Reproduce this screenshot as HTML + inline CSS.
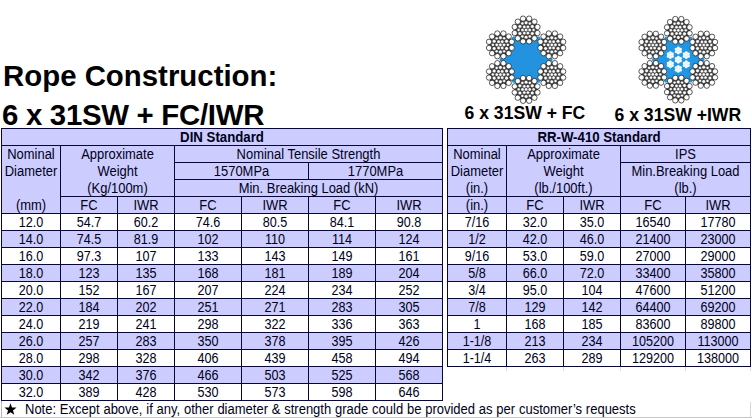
<!DOCTYPE html>
<html><head><meta charset="utf-8"><title>Rope Construction</title>
<style>
html,body{margin:0;padding:0;}
body{width:752px;height:418px;background:#fff;position:relative;overflow:hidden;font-family:"Liberation Sans",sans-serif;color:#000018;}
.r{position:absolute;}
.t{position:absolute;height:16px;line-height:17px;font-size:14px;text-align:center;white-space:nowrap;transform:scaleX(0.925);transform-origin:50% 50%;}
.n{transform:scaleX(0.9);}
.note{position:absolute;font-size:14px;line-height:17px;white-space:nowrap;transform:scaleX(0.9286);transform-origin:0 50%;}
.star{font-size:13px;}
.h1{position:absolute;font-size:29.4px;line-height:30px;font-weight:bold;white-space:nowrap;color:#000;}
.lab{position:absolute;font-size:17.6px;line-height:20px;font-weight:bold;white-space:nowrap;color:#000;}
</style></head><body>
<div class="r" style="left:1px;top:128px;width:442px;height:85px;background:#ccccff"></div>
<div class="r" style="left:1px;top:230px;width:442px;height:17px;background:#ccccff"></div>
<div class="r" style="left:1px;top:264px;width:442px;height:17px;background:#ccccff"></div>
<div class="r" style="left:1px;top:298px;width:442px;height:17px;background:#ccccff"></div>
<div class="r" style="left:1px;top:332px;width:442px;height:17px;background:#ccccff"></div>
<div class="r" style="left:1px;top:366px;width:442px;height:17px;background:#ccccff"></div>
<div class="r" style="left:1px;top:128px;width:442px;height:1px;background:#07073a"></div>
<div class="r" style="left:1px;top:145px;width:442px;height:1px;background:#07073a"></div>
<div class="r" style="left:174px;top:162px;width:269px;height:1px;background:#07073a"></div>
<div class="r" style="left:174px;top:179px;width:269px;height:1px;background:#07073a"></div>
<div class="r" style="left:60px;top:196px;width:383px;height:1px;background:#07073a"></div>
<div class="r" style="left:1px;top:213px;width:442px;height:1px;background:#07073a"></div>
<div class="r" style="left:1px;top:230px;width:442px;height:1px;background:#07073a"></div>
<div class="r" style="left:1px;top:247px;width:442px;height:1px;background:#07073a"></div>
<div class="r" style="left:1px;top:264px;width:442px;height:1px;background:#07073a"></div>
<div class="r" style="left:1px;top:281px;width:442px;height:1px;background:#07073a"></div>
<div class="r" style="left:1px;top:298px;width:442px;height:1px;background:#07073a"></div>
<div class="r" style="left:1px;top:315px;width:442px;height:1px;background:#07073a"></div>
<div class="r" style="left:1px;top:332px;width:442px;height:1px;background:#07073a"></div>
<div class="r" style="left:1px;top:349px;width:442px;height:1px;background:#07073a"></div>
<div class="r" style="left:1px;top:366px;width:442px;height:1px;background:#07073a"></div>
<div class="r" style="left:1px;top:383px;width:442px;height:1px;background:#07073a"></div>
<div class="r" style="left:1px;top:400px;width:442px;height:1px;background:#07073a"></div>
<div class="r" style="left:1px;top:128px;width:1px;height:273px;background:#07073a"></div>
<div class="r" style="left:1px;top:401px;width:1px;height:16px;background:#b8b8b8"></div>
<div class="r" style="left:442px;top:128px;width:1px;height:273px;background:#07073a"></div>
<div class="r" style="left:60px;top:145px;width:1px;height:256px;background:#07073a"></div>
<div class="r" style="left:174px;top:145px;width:1px;height:256px;background:#07073a"></div>
<div class="r" style="left:117px;top:196px;width:1px;height:205px;background:#07073a"></div>
<div class="r" style="left:308px;top:162px;width:1px;height:18px;background:#07073a"></div>
<div class="r" style="left:241px;top:196px;width:1px;height:205px;background:#07073a"></div>
<div class="r" style="left:308px;top:196px;width:1px;height:205px;background:#07073a"></div>
<div class="r" style="left:375px;top:196px;width:1px;height:205px;background:#07073a"></div>
<div class="t" style="left:2px;top:129px;width:440px;font-weight:bold;transform:scaleX(0.945);">DIN Standard</div>
<div class="t" style="left:2px;top:146px;width:58px;">Nominal</div>
<div class="t" style="left:2px;top:163px;width:58px;">Diameter</div>
<div class="t" style="left:2px;top:197px;width:58px;">(mm)</div>
<div class="t" style="left:61px;top:146px;width:113px;">Approximate</div>
<div class="t" style="left:61px;top:163px;width:113px;">Weight</div>
<div class="t" style="left:61px;top:180px;width:113px;">(Kg/100m)</div>
<div class="t" style="left:61px;top:197px;width:56px;">FC</div>
<div class="t" style="left:118px;top:197px;width:56px;">IWR</div>
<div class="t" style="left:175px;top:146px;width:267px;">Nominal Tensile Strength</div>
<div class="t" style="left:175px;top:163px;width:133px;">1570MPa</div>
<div class="t" style="left:309px;top:163px;width:133px;">1770MPa</div>
<div class="t" style="left:175px;top:180px;width:267px;">Min. Breaking Load (kN)</div>
<div class="t" style="left:175px;top:197px;width:66px;">FC</div>
<div class="t" style="left:242px;top:197px;width:66px;">IWR</div>
<div class="t" style="left:309px;top:197px;width:66px;">FC</div>
<div class="t" style="left:376px;top:197px;width:66px;">IWR</div>
<div class="t n" style="left:2px;top:214px;width:58px;">12.0</div>
<div class="t n" style="left:61px;top:214px;width:56px;">54.7</div>
<div class="t n" style="left:118px;top:214px;width:56px;">60.2</div>
<div class="t n" style="left:175px;top:214px;width:66px;">74.6</div>
<div class="t n" style="left:242px;top:214px;width:66px;">80.5</div>
<div class="t n" style="left:309px;top:214px;width:66px;">84.1</div>
<div class="t n" style="left:376px;top:214px;width:66px;">90.8</div>
<div class="t n" style="left:2px;top:231px;width:58px;">14.0</div>
<div class="t n" style="left:61px;top:231px;width:56px;">74.5</div>
<div class="t n" style="left:118px;top:231px;width:56px;">81.9</div>
<div class="t n" style="left:175px;top:231px;width:66px;">102</div>
<div class="t n" style="left:242px;top:231px;width:66px;">110</div>
<div class="t n" style="left:309px;top:231px;width:66px;">114</div>
<div class="t n" style="left:376px;top:231px;width:66px;">124</div>
<div class="t n" style="left:2px;top:248px;width:58px;">16.0</div>
<div class="t n" style="left:61px;top:248px;width:56px;">97.3</div>
<div class="t n" style="left:118px;top:248px;width:56px;">107</div>
<div class="t n" style="left:175px;top:248px;width:66px;">133</div>
<div class="t n" style="left:242px;top:248px;width:66px;">143</div>
<div class="t n" style="left:309px;top:248px;width:66px;">149</div>
<div class="t n" style="left:376px;top:248px;width:66px;">161</div>
<div class="t n" style="left:2px;top:265px;width:58px;">18.0</div>
<div class="t n" style="left:61px;top:265px;width:56px;">123</div>
<div class="t n" style="left:118px;top:265px;width:56px;">135</div>
<div class="t n" style="left:175px;top:265px;width:66px;">168</div>
<div class="t n" style="left:242px;top:265px;width:66px;">181</div>
<div class="t n" style="left:309px;top:265px;width:66px;">189</div>
<div class="t n" style="left:376px;top:265px;width:66px;">204</div>
<div class="t n" style="left:2px;top:282px;width:58px;">20.0</div>
<div class="t n" style="left:61px;top:282px;width:56px;">152</div>
<div class="t n" style="left:118px;top:282px;width:56px;">167</div>
<div class="t n" style="left:175px;top:282px;width:66px;">207</div>
<div class="t n" style="left:242px;top:282px;width:66px;">224</div>
<div class="t n" style="left:309px;top:282px;width:66px;">234</div>
<div class="t n" style="left:376px;top:282px;width:66px;">252</div>
<div class="t n" style="left:2px;top:299px;width:58px;">22.0</div>
<div class="t n" style="left:61px;top:299px;width:56px;">184</div>
<div class="t n" style="left:118px;top:299px;width:56px;">202</div>
<div class="t n" style="left:175px;top:299px;width:66px;">251</div>
<div class="t n" style="left:242px;top:299px;width:66px;">271</div>
<div class="t n" style="left:309px;top:299px;width:66px;">283</div>
<div class="t n" style="left:376px;top:299px;width:66px;">305</div>
<div class="t n" style="left:2px;top:316px;width:58px;">24.0</div>
<div class="t n" style="left:61px;top:316px;width:56px;">219</div>
<div class="t n" style="left:118px;top:316px;width:56px;">241</div>
<div class="t n" style="left:175px;top:316px;width:66px;">298</div>
<div class="t n" style="left:242px;top:316px;width:66px;">322</div>
<div class="t n" style="left:309px;top:316px;width:66px;">336</div>
<div class="t n" style="left:376px;top:316px;width:66px;">363</div>
<div class="t n" style="left:2px;top:333px;width:58px;">26.0</div>
<div class="t n" style="left:61px;top:333px;width:56px;">257</div>
<div class="t n" style="left:118px;top:333px;width:56px;">283</div>
<div class="t n" style="left:175px;top:333px;width:66px;">350</div>
<div class="t n" style="left:242px;top:333px;width:66px;">378</div>
<div class="t n" style="left:309px;top:333px;width:66px;">395</div>
<div class="t n" style="left:376px;top:333px;width:66px;">426</div>
<div class="t n" style="left:2px;top:350px;width:58px;">28.0</div>
<div class="t n" style="left:61px;top:350px;width:56px;">298</div>
<div class="t n" style="left:118px;top:350px;width:56px;">328</div>
<div class="t n" style="left:175px;top:350px;width:66px;">406</div>
<div class="t n" style="left:242px;top:350px;width:66px;">439</div>
<div class="t n" style="left:309px;top:350px;width:66px;">458</div>
<div class="t n" style="left:376px;top:350px;width:66px;">494</div>
<div class="t n" style="left:2px;top:367px;width:58px;">30.0</div>
<div class="t n" style="left:61px;top:367px;width:56px;">342</div>
<div class="t n" style="left:118px;top:367px;width:56px;">376</div>
<div class="t n" style="left:175px;top:367px;width:66px;">466</div>
<div class="t n" style="left:242px;top:367px;width:66px;">503</div>
<div class="t n" style="left:309px;top:367px;width:66px;">525</div>
<div class="t n" style="left:376px;top:367px;width:66px;">568</div>
<div class="t n" style="left:2px;top:384px;width:58px;">32.0</div>
<div class="t n" style="left:61px;top:384px;width:56px;">389</div>
<div class="t n" style="left:118px;top:384px;width:56px;">428</div>
<div class="t n" style="left:175px;top:384px;width:66px;">530</div>
<div class="t n" style="left:242px;top:384px;width:66px;">573</div>
<div class="t n" style="left:309px;top:384px;width:66px;">598</div>
<div class="t n" style="left:376px;top:384px;width:66px;">646</div>
<div class="r" style="left:447px;top:128px;width:304px;height:85px;background:#ccccff"></div>
<div class="r" style="left:447px;top:230px;width:304px;height:17px;background:#ccccff"></div>
<div class="r" style="left:447px;top:264px;width:304px;height:17px;background:#ccccff"></div>
<div class="r" style="left:447px;top:298px;width:304px;height:17px;background:#ccccff"></div>
<div class="r" style="left:447px;top:332px;width:304px;height:17px;background:#ccccff"></div>
<div class="r" style="left:447px;top:128px;width:304px;height:1px;background:#07073a"></div>
<div class="r" style="left:447px;top:145px;width:304px;height:1px;background:#07073a"></div>
<div class="r" style="left:620px;top:162px;width:131px;height:1px;background:#07073a"></div>
<div class="r" style="left:447px;top:196px;width:304px;height:1px;background:#07073a"></div>
<div class="r" style="left:447px;top:213px;width:304px;height:1px;background:#07073a"></div>
<div class="r" style="left:447px;top:230px;width:304px;height:1px;background:#07073a"></div>
<div class="r" style="left:447px;top:247px;width:304px;height:1px;background:#07073a"></div>
<div class="r" style="left:447px;top:264px;width:304px;height:1px;background:#07073a"></div>
<div class="r" style="left:447px;top:281px;width:304px;height:1px;background:#07073a"></div>
<div class="r" style="left:447px;top:298px;width:304px;height:1px;background:#07073a"></div>
<div class="r" style="left:447px;top:315px;width:304px;height:1px;background:#07073a"></div>
<div class="r" style="left:447px;top:332px;width:304px;height:1px;background:#07073a"></div>
<div class="r" style="left:447px;top:349px;width:304px;height:1px;background:#07073a"></div>
<div class="r" style="left:447px;top:366px;width:304px;height:1px;background:#07073a"></div>
<div class="r" style="left:447px;top:128px;width:1px;height:239px;background:#07073a"></div>
<div class="r" style="left:750px;top:128px;width:1px;height:239px;background:#07073a"></div>
<div class="r" style="left:506px;top:145px;width:1px;height:222px;background:#07073a"></div>
<div class="r" style="left:620px;top:145px;width:1px;height:222px;background:#07073a"></div>
<div class="r" style="left:563px;top:196px;width:1px;height:171px;background:#07073a"></div>
<div class="r" style="left:685px;top:196px;width:1px;height:171px;background:#07073a"></div>
<div class="t" style="left:448px;top:129px;width:302px;font-weight:bold;transform:scaleX(0.945);">RR-W-410 Standard</div>
<div class="t" style="left:448px;top:146px;width:58px;">Nominal</div>
<div class="t" style="left:448px;top:163px;width:58px;">Diameter</div>
<div class="t" style="left:448px;top:180px;width:58px;">(in.)</div>
<div class="t" style="left:448px;top:197px;width:58px;">(in.)</div>
<div class="t" style="left:507px;top:146px;width:113px;">Approximate</div>
<div class="t" style="left:507px;top:163px;width:113px;">Weight</div>
<div class="t" style="left:507px;top:180px;width:113px;">(lb./100ft.)</div>
<div class="t" style="left:507px;top:197px;width:56px;">FC</div>
<div class="t" style="left:564px;top:197px;width:56px;">IWR</div>
<div class="t" style="left:621px;top:146px;width:129px;">IPS</div>
<div class="t" style="left:621px;top:163px;width:129px;">Min.Breaking Load</div>
<div class="t" style="left:621px;top:180px;width:129px;">(lb.)</div>
<div class="t" style="left:621px;top:197px;width:64px;">FC</div>
<div class="t" style="left:686px;top:197px;width:64px;">IWR</div>
<div class="t n" style="left:448px;top:214px;width:58px;">7/16</div>
<div class="t n" style="left:507px;top:214px;width:56px;">32.0</div>
<div class="t n" style="left:564px;top:214px;width:56px;">35.0</div>
<div class="t n" style="left:621px;top:214px;width:64px;">16540</div>
<div class="t n" style="left:686px;top:214px;width:64px;">17780</div>
<div class="t n" style="left:448px;top:231px;width:58px;">1/2</div>
<div class="t n" style="left:507px;top:231px;width:56px;">42.0</div>
<div class="t n" style="left:564px;top:231px;width:56px;">46.0</div>
<div class="t n" style="left:621px;top:231px;width:64px;">21400</div>
<div class="t n" style="left:686px;top:231px;width:64px;">23000</div>
<div class="t n" style="left:448px;top:248px;width:58px;">9/16</div>
<div class="t n" style="left:507px;top:248px;width:56px;">53.0</div>
<div class="t n" style="left:564px;top:248px;width:56px;">59.0</div>
<div class="t n" style="left:621px;top:248px;width:64px;">27000</div>
<div class="t n" style="left:686px;top:248px;width:64px;">29000</div>
<div class="t n" style="left:448px;top:265px;width:58px;">5/8</div>
<div class="t n" style="left:507px;top:265px;width:56px;">66.0</div>
<div class="t n" style="left:564px;top:265px;width:56px;">72.0</div>
<div class="t n" style="left:621px;top:265px;width:64px;">33400</div>
<div class="t n" style="left:686px;top:265px;width:64px;">35800</div>
<div class="t n" style="left:448px;top:282px;width:58px;">3/4</div>
<div class="t n" style="left:507px;top:282px;width:56px;">95.0</div>
<div class="t n" style="left:564px;top:282px;width:56px;">104</div>
<div class="t n" style="left:621px;top:282px;width:64px;">47600</div>
<div class="t n" style="left:686px;top:282px;width:64px;">51200</div>
<div class="t n" style="left:448px;top:299px;width:58px;">7/8</div>
<div class="t n" style="left:507px;top:299px;width:56px;">129</div>
<div class="t n" style="left:564px;top:299px;width:56px;">142</div>
<div class="t n" style="left:621px;top:299px;width:64px;">64400</div>
<div class="t n" style="left:686px;top:299px;width:64px;">69200</div>
<div class="t n" style="left:448px;top:316px;width:58px;">1</div>
<div class="t n" style="left:507px;top:316px;width:56px;">168</div>
<div class="t n" style="left:564px;top:316px;width:56px;">185</div>
<div class="t n" style="left:621px;top:316px;width:64px;">83600</div>
<div class="t n" style="left:686px;top:316px;width:64px;">89800</div>
<div class="t n" style="left:448px;top:333px;width:58px;">1-1/8</div>
<div class="t n" style="left:507px;top:333px;width:56px;">213</div>
<div class="t n" style="left:564px;top:333px;width:56px;">234</div>
<div class="t n" style="left:621px;top:333px;width:64px;">105200</div>
<div class="t n" style="left:686px;top:333px;width:64px;">113000</div>
<div class="t n" style="left:448px;top:350px;width:58px;">1-1/4</div>
<div class="t n" style="left:507px;top:350px;width:56px;">263</div>
<div class="t n" style="left:564px;top:350px;width:56px;">289</div>
<div class="t n" style="left:621px;top:350px;width:64px;">129200</div>
<div class="t n" style="left:686px;top:350px;width:64px;">138000</div>
<svg class="r" style="left:0;top:398px" width="30" height="20" viewBox="0 398 30 20"><polygon points="10.50,403.20 12.03,407.50 16.59,407.62 12.97,410.40 14.26,414.78 10.50,412.20 6.74,414.78 8.03,410.40 4.41,407.62 8.97,407.50" fill="#000"/></svg>
<div class="note" style="left:24.5px;top:401px;word-spacing:0.2px">Note: Except above, if any, other diameter &amp; strength grade could be provided as per customer&rsquo;s requests</div>
<div class="r" style="left:0px;top:417px;width:752px;height:1px;background:#c4c4c4"></div>
<div class="r" style="left:750px;top:402px;width:1px;height:15px;background:#d8d8d8"></div>
<div class="r" style="left:506px;top:367px;width:1px;height:4px;background:#dcdcdc"></div>
<div class="r" style="left:563px;top:367px;width:1px;height:4px;background:#dcdcdc"></div>
<div class="r" style="left:620px;top:367px;width:1px;height:4px;background:#dcdcdc"></div>
<div class="r" style="left:685px;top:367px;width:1px;height:4px;background:#dcdcdc"></div>
<div class="r" style="left:750px;top:367px;width:1px;height:4px;background:#dcdcdc"></div>
<div class="h1" style="left:3px;top:61px;">Rope Construction:</div>
<div class="h1" style="left:2px;top:100px;letter-spacing:-0.29px">6 x 31SW + FC/IWR</div>
<div class="lab" style="left:464.5px;top:103px;">6 x 31SW + FC</div>
<div class="lab" style="left:614.5px;top:105px;">6 x 31SW +IWR</div>
<svg class="r" style="left:0;top:0" width="752" height="128" viewBox="0 0 752 128"><polygon points="552.83,59.70 539.47,82.85 512.74,82.85 499.37,59.70 512.74,36.55 539.47,36.55" fill="#2393df"/><circle cx="526.10" cy="30.00" r="11.76" fill="#3a3a3a"/><circle cx="537.46" cy="33.04" r="2.69" fill="#fff" stroke="#111" stroke-width="0.7"/><circle cx="534.41" cy="38.31" r="2.69" fill="#fff" stroke="#111" stroke-width="0.7"/><circle cx="529.14" cy="41.36" r="2.69" fill="#fff" stroke="#111" stroke-width="0.7"/><circle cx="523.06" cy="41.36" r="2.69" fill="#fff" stroke="#111" stroke-width="0.7"/><circle cx="517.79" cy="38.31" r="2.69" fill="#fff" stroke="#111" stroke-width="0.7"/><circle cx="514.74" cy="33.04" r="2.69" fill="#fff" stroke="#111" stroke-width="0.7"/><circle cx="514.74" cy="26.96" r="2.69" fill="#fff" stroke="#111" stroke-width="0.7"/><circle cx="517.79" cy="21.69" r="2.69" fill="#fff" stroke="#111" stroke-width="0.7"/><circle cx="523.06" cy="18.64" r="2.69" fill="#fff" stroke="#111" stroke-width="0.7"/><circle cx="529.14" cy="18.64" r="2.69" fill="#fff" stroke="#111" stroke-width="0.7"/><circle cx="534.41" cy="21.69" r="2.69" fill="#fff" stroke="#111" stroke-width="0.7"/><circle cx="537.46" cy="26.96" r="2.69" fill="#fff" stroke="#111" stroke-width="0.7"/><circle cx="532.29" cy="33.58" r="1.77" fill="#fff" stroke="#333" stroke-width="0.35"/><circle cx="526.10" cy="37.15" r="1.77" fill="#fff" stroke="#333" stroke-width="0.35"/><circle cx="519.91" cy="33.58" r="1.77" fill="#fff" stroke="#333" stroke-width="0.35"/><circle cx="519.91" cy="26.43" r="1.77" fill="#fff" stroke="#333" stroke-width="0.35"/><circle cx="526.10" cy="22.85" r="1.77" fill="#fff" stroke="#333" stroke-width="0.35"/><circle cx="532.29" cy="26.43" r="1.77" fill="#fff" stroke="#333" stroke-width="0.35"/><circle cx="533.60" cy="30.00" r="1.47" fill="#fff" stroke="#333" stroke-width="0.35"/><circle cx="529.85" cy="36.50" r="1.47" fill="#fff" stroke="#333" stroke-width="0.35"/><circle cx="522.35" cy="36.50" r="1.47" fill="#fff" stroke="#333" stroke-width="0.35"/><circle cx="518.60" cy="30.00" r="1.47" fill="#fff" stroke="#333" stroke-width="0.35"/><circle cx="522.35" cy="23.50" r="1.47" fill="#fff" stroke="#333" stroke-width="0.35"/><circle cx="529.85" cy="23.50" r="1.47" fill="#fff" stroke="#333" stroke-width="0.35"/><circle cx="529.70" cy="30.00" r="1.62" fill="#fff" stroke="#333" stroke-width="0.35"/><circle cx="527.90" cy="33.12" r="1.62" fill="#fff" stroke="#333" stroke-width="0.35"/><circle cx="524.30" cy="33.12" r="1.62" fill="#fff" stroke="#333" stroke-width="0.35"/><circle cx="522.50" cy="30.00" r="1.62" fill="#fff" stroke="#333" stroke-width="0.35"/><circle cx="524.30" cy="26.88" r="1.62" fill="#fff" stroke="#333" stroke-width="0.35"/><circle cx="527.90" cy="26.88" r="1.62" fill="#fff" stroke="#333" stroke-width="0.35"/><circle cx="526.10" cy="30.00" r="1.62" fill="#fff" stroke="#333" stroke-width="0.35"/><circle cx="551.82" cy="44.85" r="11.76" fill="#3a3a3a"/><circle cx="563.18" cy="47.89" r="2.69" fill="#fff" stroke="#111" stroke-width="0.7"/><circle cx="560.13" cy="53.16" r="2.69" fill="#fff" stroke="#111" stroke-width="0.7"/><circle cx="554.86" cy="56.21" r="2.69" fill="#fff" stroke="#111" stroke-width="0.7"/><circle cx="548.78" cy="56.21" r="2.69" fill="#fff" stroke="#111" stroke-width="0.7"/><circle cx="543.51" cy="53.16" r="2.69" fill="#fff" stroke="#111" stroke-width="0.7"/><circle cx="540.46" cy="47.89" r="2.69" fill="#fff" stroke="#111" stroke-width="0.7"/><circle cx="540.46" cy="41.81" r="2.69" fill="#fff" stroke="#111" stroke-width="0.7"/><circle cx="543.51" cy="36.54" r="2.69" fill="#fff" stroke="#111" stroke-width="0.7"/><circle cx="548.78" cy="33.49" r="2.69" fill="#fff" stroke="#111" stroke-width="0.7"/><circle cx="554.86" cy="33.49" r="2.69" fill="#fff" stroke="#111" stroke-width="0.7"/><circle cx="560.13" cy="36.54" r="2.69" fill="#fff" stroke="#111" stroke-width="0.7"/><circle cx="563.18" cy="41.81" r="2.69" fill="#fff" stroke="#111" stroke-width="0.7"/><circle cx="558.01" cy="48.43" r="1.77" fill="#fff" stroke="#333" stroke-width="0.35"/><circle cx="551.82" cy="52.00" r="1.77" fill="#fff" stroke="#333" stroke-width="0.35"/><circle cx="545.63" cy="48.43" r="1.77" fill="#fff" stroke="#333" stroke-width="0.35"/><circle cx="545.63" cy="41.28" r="1.77" fill="#fff" stroke="#333" stroke-width="0.35"/><circle cx="551.82" cy="37.70" r="1.77" fill="#fff" stroke="#333" stroke-width="0.35"/><circle cx="558.01" cy="41.28" r="1.77" fill="#fff" stroke="#333" stroke-width="0.35"/><circle cx="559.32" cy="44.85" r="1.47" fill="#fff" stroke="#333" stroke-width="0.35"/><circle cx="555.57" cy="51.35" r="1.47" fill="#fff" stroke="#333" stroke-width="0.35"/><circle cx="548.07" cy="51.35" r="1.47" fill="#fff" stroke="#333" stroke-width="0.35"/><circle cx="544.32" cy="44.85" r="1.47" fill="#fff" stroke="#333" stroke-width="0.35"/><circle cx="548.07" cy="38.35" r="1.47" fill="#fff" stroke="#333" stroke-width="0.35"/><circle cx="555.57" cy="38.35" r="1.47" fill="#fff" stroke="#333" stroke-width="0.35"/><circle cx="555.42" cy="44.85" r="1.62" fill="#fff" stroke="#333" stroke-width="0.35"/><circle cx="553.62" cy="47.97" r="1.62" fill="#fff" stroke="#333" stroke-width="0.35"/><circle cx="550.02" cy="47.97" r="1.62" fill="#fff" stroke="#333" stroke-width="0.35"/><circle cx="548.22" cy="44.85" r="1.62" fill="#fff" stroke="#333" stroke-width="0.35"/><circle cx="550.02" cy="41.73" r="1.62" fill="#fff" stroke="#333" stroke-width="0.35"/><circle cx="553.62" cy="41.73" r="1.62" fill="#fff" stroke="#333" stroke-width="0.35"/><circle cx="551.82" cy="44.85" r="1.62" fill="#fff" stroke="#333" stroke-width="0.35"/><circle cx="551.82" cy="74.55" r="11.76" fill="#3a3a3a"/><circle cx="563.18" cy="77.59" r="2.69" fill="#fff" stroke="#111" stroke-width="0.7"/><circle cx="560.13" cy="82.86" r="2.69" fill="#fff" stroke="#111" stroke-width="0.7"/><circle cx="554.86" cy="85.91" r="2.69" fill="#fff" stroke="#111" stroke-width="0.7"/><circle cx="548.78" cy="85.91" r="2.69" fill="#fff" stroke="#111" stroke-width="0.7"/><circle cx="543.51" cy="82.86" r="2.69" fill="#fff" stroke="#111" stroke-width="0.7"/><circle cx="540.46" cy="77.59" r="2.69" fill="#fff" stroke="#111" stroke-width="0.7"/><circle cx="540.46" cy="71.51" r="2.69" fill="#fff" stroke="#111" stroke-width="0.7"/><circle cx="543.51" cy="66.24" r="2.69" fill="#fff" stroke="#111" stroke-width="0.7"/><circle cx="548.78" cy="63.19" r="2.69" fill="#fff" stroke="#111" stroke-width="0.7"/><circle cx="554.86" cy="63.19" r="2.69" fill="#fff" stroke="#111" stroke-width="0.7"/><circle cx="560.13" cy="66.24" r="2.69" fill="#fff" stroke="#111" stroke-width="0.7"/><circle cx="563.18" cy="71.51" r="2.69" fill="#fff" stroke="#111" stroke-width="0.7"/><circle cx="558.01" cy="78.12" r="1.77" fill="#fff" stroke="#333" stroke-width="0.35"/><circle cx="551.82" cy="81.70" r="1.77" fill="#fff" stroke="#333" stroke-width="0.35"/><circle cx="545.63" cy="78.12" r="1.77" fill="#fff" stroke="#333" stroke-width="0.35"/><circle cx="545.63" cy="70.97" r="1.77" fill="#fff" stroke="#333" stroke-width="0.35"/><circle cx="551.82" cy="67.40" r="1.77" fill="#fff" stroke="#333" stroke-width="0.35"/><circle cx="558.01" cy="70.97" r="1.77" fill="#fff" stroke="#333" stroke-width="0.35"/><circle cx="559.32" cy="74.55" r="1.47" fill="#fff" stroke="#333" stroke-width="0.35"/><circle cx="555.57" cy="81.05" r="1.47" fill="#fff" stroke="#333" stroke-width="0.35"/><circle cx="548.07" cy="81.05" r="1.47" fill="#fff" stroke="#333" stroke-width="0.35"/><circle cx="544.32" cy="74.55" r="1.47" fill="#fff" stroke="#333" stroke-width="0.35"/><circle cx="548.07" cy="68.05" r="1.47" fill="#fff" stroke="#333" stroke-width="0.35"/><circle cx="555.57" cy="68.05" r="1.47" fill="#fff" stroke="#333" stroke-width="0.35"/><circle cx="555.42" cy="74.55" r="1.62" fill="#fff" stroke="#333" stroke-width="0.35"/><circle cx="553.62" cy="77.67" r="1.62" fill="#fff" stroke="#333" stroke-width="0.35"/><circle cx="550.02" cy="77.67" r="1.62" fill="#fff" stroke="#333" stroke-width="0.35"/><circle cx="548.22" cy="74.55" r="1.62" fill="#fff" stroke="#333" stroke-width="0.35"/><circle cx="550.02" cy="71.43" r="1.62" fill="#fff" stroke="#333" stroke-width="0.35"/><circle cx="553.62" cy="71.43" r="1.62" fill="#fff" stroke="#333" stroke-width="0.35"/><circle cx="551.82" cy="74.55" r="1.62" fill="#fff" stroke="#333" stroke-width="0.35"/><circle cx="526.10" cy="89.40" r="11.76" fill="#3a3a3a"/><circle cx="537.46" cy="92.44" r="2.69" fill="#fff" stroke="#111" stroke-width="0.7"/><circle cx="534.41" cy="97.71" r="2.69" fill="#fff" stroke="#111" stroke-width="0.7"/><circle cx="529.14" cy="100.76" r="2.69" fill="#fff" stroke="#111" stroke-width="0.7"/><circle cx="523.06" cy="100.76" r="2.69" fill="#fff" stroke="#111" stroke-width="0.7"/><circle cx="517.79" cy="97.71" r="2.69" fill="#fff" stroke="#111" stroke-width="0.7"/><circle cx="514.74" cy="92.44" r="2.69" fill="#fff" stroke="#111" stroke-width="0.7"/><circle cx="514.74" cy="86.36" r="2.69" fill="#fff" stroke="#111" stroke-width="0.7"/><circle cx="517.79" cy="81.09" r="2.69" fill="#fff" stroke="#111" stroke-width="0.7"/><circle cx="523.06" cy="78.04" r="2.69" fill="#fff" stroke="#111" stroke-width="0.7"/><circle cx="529.14" cy="78.04" r="2.69" fill="#fff" stroke="#111" stroke-width="0.7"/><circle cx="534.41" cy="81.09" r="2.69" fill="#fff" stroke="#111" stroke-width="0.7"/><circle cx="537.46" cy="86.36" r="2.69" fill="#fff" stroke="#111" stroke-width="0.7"/><circle cx="532.29" cy="92.98" r="1.77" fill="#fff" stroke="#333" stroke-width="0.35"/><circle cx="526.10" cy="96.55" r="1.77" fill="#fff" stroke="#333" stroke-width="0.35"/><circle cx="519.91" cy="92.98" r="1.77" fill="#fff" stroke="#333" stroke-width="0.35"/><circle cx="519.91" cy="85.83" r="1.77" fill="#fff" stroke="#333" stroke-width="0.35"/><circle cx="526.10" cy="82.25" r="1.77" fill="#fff" stroke="#333" stroke-width="0.35"/><circle cx="532.29" cy="85.83" r="1.77" fill="#fff" stroke="#333" stroke-width="0.35"/><circle cx="533.60" cy="89.40" r="1.47" fill="#fff" stroke="#333" stroke-width="0.35"/><circle cx="529.85" cy="95.90" r="1.47" fill="#fff" stroke="#333" stroke-width="0.35"/><circle cx="522.35" cy="95.90" r="1.47" fill="#fff" stroke="#333" stroke-width="0.35"/><circle cx="518.60" cy="89.40" r="1.47" fill="#fff" stroke="#333" stroke-width="0.35"/><circle cx="522.35" cy="82.90" r="1.47" fill="#fff" stroke="#333" stroke-width="0.35"/><circle cx="529.85" cy="82.90" r="1.47" fill="#fff" stroke="#333" stroke-width="0.35"/><circle cx="529.70" cy="89.40" r="1.62" fill="#fff" stroke="#333" stroke-width="0.35"/><circle cx="527.90" cy="92.52" r="1.62" fill="#fff" stroke="#333" stroke-width="0.35"/><circle cx="524.30" cy="92.52" r="1.62" fill="#fff" stroke="#333" stroke-width="0.35"/><circle cx="522.50" cy="89.40" r="1.62" fill="#fff" stroke="#333" stroke-width="0.35"/><circle cx="524.30" cy="86.28" r="1.62" fill="#fff" stroke="#333" stroke-width="0.35"/><circle cx="527.90" cy="86.28" r="1.62" fill="#fff" stroke="#333" stroke-width="0.35"/><circle cx="526.10" cy="89.40" r="1.62" fill="#fff" stroke="#333" stroke-width="0.35"/><circle cx="500.38" cy="74.55" r="11.76" fill="#3a3a3a"/><circle cx="511.74" cy="77.59" r="2.69" fill="#fff" stroke="#111" stroke-width="0.7"/><circle cx="508.69" cy="82.86" r="2.69" fill="#fff" stroke="#111" stroke-width="0.7"/><circle cx="503.42" cy="85.91" r="2.69" fill="#fff" stroke="#111" stroke-width="0.7"/><circle cx="497.34" cy="85.91" r="2.69" fill="#fff" stroke="#111" stroke-width="0.7"/><circle cx="492.07" cy="82.86" r="2.69" fill="#fff" stroke="#111" stroke-width="0.7"/><circle cx="489.02" cy="77.59" r="2.69" fill="#fff" stroke="#111" stroke-width="0.7"/><circle cx="489.02" cy="71.51" r="2.69" fill="#fff" stroke="#111" stroke-width="0.7"/><circle cx="492.07" cy="66.24" r="2.69" fill="#fff" stroke="#111" stroke-width="0.7"/><circle cx="497.34" cy="63.19" r="2.69" fill="#fff" stroke="#111" stroke-width="0.7"/><circle cx="503.42" cy="63.19" r="2.69" fill="#fff" stroke="#111" stroke-width="0.7"/><circle cx="508.69" cy="66.24" r="2.69" fill="#fff" stroke="#111" stroke-width="0.7"/><circle cx="511.74" cy="71.51" r="2.69" fill="#fff" stroke="#111" stroke-width="0.7"/><circle cx="506.57" cy="78.12" r="1.77" fill="#fff" stroke="#333" stroke-width="0.35"/><circle cx="500.38" cy="81.70" r="1.77" fill="#fff" stroke="#333" stroke-width="0.35"/><circle cx="494.19" cy="78.12" r="1.77" fill="#fff" stroke="#333" stroke-width="0.35"/><circle cx="494.19" cy="70.97" r="1.77" fill="#fff" stroke="#333" stroke-width="0.35"/><circle cx="500.38" cy="67.40" r="1.77" fill="#fff" stroke="#333" stroke-width="0.35"/><circle cx="506.57" cy="70.97" r="1.77" fill="#fff" stroke="#333" stroke-width="0.35"/><circle cx="507.88" cy="74.55" r="1.47" fill="#fff" stroke="#333" stroke-width="0.35"/><circle cx="504.13" cy="81.05" r="1.47" fill="#fff" stroke="#333" stroke-width="0.35"/><circle cx="496.63" cy="81.05" r="1.47" fill="#fff" stroke="#333" stroke-width="0.35"/><circle cx="492.88" cy="74.55" r="1.47" fill="#fff" stroke="#333" stroke-width="0.35"/><circle cx="496.63" cy="68.05" r="1.47" fill="#fff" stroke="#333" stroke-width="0.35"/><circle cx="504.13" cy="68.05" r="1.47" fill="#fff" stroke="#333" stroke-width="0.35"/><circle cx="503.98" cy="74.55" r="1.62" fill="#fff" stroke="#333" stroke-width="0.35"/><circle cx="502.18" cy="77.67" r="1.62" fill="#fff" stroke="#333" stroke-width="0.35"/><circle cx="498.58" cy="77.67" r="1.62" fill="#fff" stroke="#333" stroke-width="0.35"/><circle cx="496.78" cy="74.55" r="1.62" fill="#fff" stroke="#333" stroke-width="0.35"/><circle cx="498.58" cy="71.43" r="1.62" fill="#fff" stroke="#333" stroke-width="0.35"/><circle cx="502.18" cy="71.43" r="1.62" fill="#fff" stroke="#333" stroke-width="0.35"/><circle cx="500.38" cy="74.55" r="1.62" fill="#fff" stroke="#333" stroke-width="0.35"/><circle cx="500.38" cy="44.85" r="11.76" fill="#3a3a3a"/><circle cx="511.74" cy="47.89" r="2.69" fill="#fff" stroke="#111" stroke-width="0.7"/><circle cx="508.69" cy="53.16" r="2.69" fill="#fff" stroke="#111" stroke-width="0.7"/><circle cx="503.42" cy="56.21" r="2.69" fill="#fff" stroke="#111" stroke-width="0.7"/><circle cx="497.34" cy="56.21" r="2.69" fill="#fff" stroke="#111" stroke-width="0.7"/><circle cx="492.07" cy="53.16" r="2.69" fill="#fff" stroke="#111" stroke-width="0.7"/><circle cx="489.02" cy="47.89" r="2.69" fill="#fff" stroke="#111" stroke-width="0.7"/><circle cx="489.02" cy="41.81" r="2.69" fill="#fff" stroke="#111" stroke-width="0.7"/><circle cx="492.07" cy="36.54" r="2.69" fill="#fff" stroke="#111" stroke-width="0.7"/><circle cx="497.34" cy="33.49" r="2.69" fill="#fff" stroke="#111" stroke-width="0.7"/><circle cx="503.42" cy="33.49" r="2.69" fill="#fff" stroke="#111" stroke-width="0.7"/><circle cx="508.69" cy="36.54" r="2.69" fill="#fff" stroke="#111" stroke-width="0.7"/><circle cx="511.74" cy="41.81" r="2.69" fill="#fff" stroke="#111" stroke-width="0.7"/><circle cx="506.57" cy="48.43" r="1.77" fill="#fff" stroke="#333" stroke-width="0.35"/><circle cx="500.38" cy="52.00" r="1.77" fill="#fff" stroke="#333" stroke-width="0.35"/><circle cx="494.19" cy="48.43" r="1.77" fill="#fff" stroke="#333" stroke-width="0.35"/><circle cx="494.19" cy="41.27" r="1.77" fill="#fff" stroke="#333" stroke-width="0.35"/><circle cx="500.38" cy="37.70" r="1.77" fill="#fff" stroke="#333" stroke-width="0.35"/><circle cx="506.57" cy="41.27" r="1.77" fill="#fff" stroke="#333" stroke-width="0.35"/><circle cx="507.88" cy="44.85" r="1.47" fill="#fff" stroke="#333" stroke-width="0.35"/><circle cx="504.13" cy="51.35" r="1.47" fill="#fff" stroke="#333" stroke-width="0.35"/><circle cx="496.63" cy="51.35" r="1.47" fill="#fff" stroke="#333" stroke-width="0.35"/><circle cx="492.88" cy="44.85" r="1.47" fill="#fff" stroke="#333" stroke-width="0.35"/><circle cx="496.63" cy="38.35" r="1.47" fill="#fff" stroke="#333" stroke-width="0.35"/><circle cx="504.13" cy="38.35" r="1.47" fill="#fff" stroke="#333" stroke-width="0.35"/><circle cx="503.98" cy="44.85" r="1.62" fill="#fff" stroke="#333" stroke-width="0.35"/><circle cx="502.18" cy="47.97" r="1.62" fill="#fff" stroke="#333" stroke-width="0.35"/><circle cx="498.58" cy="47.97" r="1.62" fill="#fff" stroke="#333" stroke-width="0.35"/><circle cx="496.78" cy="44.85" r="1.62" fill="#fff" stroke="#333" stroke-width="0.35"/><circle cx="498.58" cy="41.73" r="1.62" fill="#fff" stroke="#333" stroke-width="0.35"/><circle cx="502.18" cy="41.73" r="1.62" fill="#fff" stroke="#333" stroke-width="0.35"/><circle cx="500.38" cy="44.85" r="1.62" fill="#fff" stroke="#333" stroke-width="0.35"/><polygon points="704.76,59.70 691.53,82.62 665.07,82.62 651.84,59.70 665.07,36.78 691.53,36.78" fill="#2197e3"/><circle cx="678.30" cy="59.70" r="3.1" fill="#a9dbf6"/><circle cx="680.55" cy="61.00" r="1.35" fill="#f4fbff"/><circle cx="678.30" cy="62.30" r="1.35" fill="#f4fbff"/><circle cx="676.05" cy="61.00" r="1.35" fill="#f4fbff"/><circle cx="676.05" cy="58.40" r="1.35" fill="#f4fbff"/><circle cx="678.30" cy="57.10" r="1.35" fill="#f4fbff"/><circle cx="680.55" cy="58.40" r="1.35" fill="#f4fbff"/><circle cx="678.30" cy="59.70" r="1.35" fill="#f4fbff"/><circle cx="686.27" cy="64.30" r="3.1" fill="#a9dbf6"/><circle cx="688.52" cy="65.60" r="1.35" fill="#f4fbff"/><circle cx="686.27" cy="66.90" r="1.35" fill="#f4fbff"/><circle cx="684.02" cy="65.60" r="1.35" fill="#f4fbff"/><circle cx="684.02" cy="63.00" r="1.35" fill="#f4fbff"/><circle cx="686.27" cy="61.70" r="1.35" fill="#f4fbff"/><circle cx="688.52" cy="63.00" r="1.35" fill="#f4fbff"/><circle cx="686.27" cy="64.30" r="1.35" fill="#f4fbff"/><circle cx="678.30" cy="68.90" r="3.1" fill="#a9dbf6"/><circle cx="680.55" cy="70.20" r="1.35" fill="#f4fbff"/><circle cx="678.30" cy="71.50" r="1.35" fill="#f4fbff"/><circle cx="676.05" cy="70.20" r="1.35" fill="#f4fbff"/><circle cx="676.05" cy="67.60" r="1.35" fill="#f4fbff"/><circle cx="678.30" cy="66.30" r="1.35" fill="#f4fbff"/><circle cx="680.55" cy="67.60" r="1.35" fill="#f4fbff"/><circle cx="678.30" cy="68.90" r="1.35" fill="#f4fbff"/><circle cx="670.33" cy="64.30" r="3.1" fill="#a9dbf6"/><circle cx="672.58" cy="65.60" r="1.35" fill="#f4fbff"/><circle cx="670.33" cy="66.90" r="1.35" fill="#f4fbff"/><circle cx="668.08" cy="65.60" r="1.35" fill="#f4fbff"/><circle cx="668.08" cy="63.00" r="1.35" fill="#f4fbff"/><circle cx="670.33" cy="61.70" r="1.35" fill="#f4fbff"/><circle cx="672.58" cy="63.00" r="1.35" fill="#f4fbff"/><circle cx="670.33" cy="64.30" r="1.35" fill="#f4fbff"/><circle cx="670.33" cy="55.10" r="3.1" fill="#a9dbf6"/><circle cx="672.58" cy="56.40" r="1.35" fill="#f4fbff"/><circle cx="670.33" cy="57.70" r="1.35" fill="#f4fbff"/><circle cx="668.08" cy="56.40" r="1.35" fill="#f4fbff"/><circle cx="668.08" cy="53.80" r="1.35" fill="#f4fbff"/><circle cx="670.33" cy="52.50" r="1.35" fill="#f4fbff"/><circle cx="672.58" cy="53.80" r="1.35" fill="#f4fbff"/><circle cx="670.33" cy="55.10" r="1.35" fill="#f4fbff"/><circle cx="678.30" cy="50.50" r="3.1" fill="#a9dbf6"/><circle cx="680.55" cy="51.80" r="1.35" fill="#f4fbff"/><circle cx="678.30" cy="53.10" r="1.35" fill="#f4fbff"/><circle cx="676.05" cy="51.80" r="1.35" fill="#f4fbff"/><circle cx="676.05" cy="49.20" r="1.35" fill="#f4fbff"/><circle cx="678.30" cy="47.90" r="1.35" fill="#f4fbff"/><circle cx="680.55" cy="49.20" r="1.35" fill="#f4fbff"/><circle cx="678.30" cy="50.50" r="1.35" fill="#f4fbff"/><circle cx="686.27" cy="55.10" r="3.1" fill="#a9dbf6"/><circle cx="688.52" cy="56.40" r="1.35" fill="#f4fbff"/><circle cx="686.27" cy="57.70" r="1.35" fill="#f4fbff"/><circle cx="684.02" cy="56.40" r="1.35" fill="#f4fbff"/><circle cx="684.02" cy="53.80" r="1.35" fill="#f4fbff"/><circle cx="686.27" cy="52.50" r="1.35" fill="#f4fbff"/><circle cx="688.52" cy="53.80" r="1.35" fill="#f4fbff"/><circle cx="686.27" cy="55.10" r="1.35" fill="#f4fbff"/><circle cx="678.30" cy="30.30" r="11.68" fill="#3a3a3a"/><circle cx="689.58" cy="33.32" r="2.67" fill="#fff" stroke="#111" stroke-width="0.7"/><circle cx="686.56" cy="38.56" r="2.67" fill="#fff" stroke="#111" stroke-width="0.7"/><circle cx="681.32" cy="41.58" r="2.67" fill="#fff" stroke="#111" stroke-width="0.7"/><circle cx="675.28" cy="41.58" r="2.67" fill="#fff" stroke="#111" stroke-width="0.7"/><circle cx="670.04" cy="38.56" r="2.67" fill="#fff" stroke="#111" stroke-width="0.7"/><circle cx="667.02" cy="33.32" r="2.67" fill="#fff" stroke="#111" stroke-width="0.7"/><circle cx="667.02" cy="27.28" r="2.67" fill="#fff" stroke="#111" stroke-width="0.7"/><circle cx="670.04" cy="22.04" r="2.67" fill="#fff" stroke="#111" stroke-width="0.7"/><circle cx="675.28" cy="19.02" r="2.67" fill="#fff" stroke="#111" stroke-width="0.7"/><circle cx="681.32" cy="19.02" r="2.67" fill="#fff" stroke="#111" stroke-width="0.7"/><circle cx="686.56" cy="22.04" r="2.67" fill="#fff" stroke="#111" stroke-width="0.7"/><circle cx="689.58" cy="27.28" r="2.67" fill="#fff" stroke="#111" stroke-width="0.7"/><circle cx="684.49" cy="33.88" r="1.77" fill="#fff" stroke="#333" stroke-width="0.35"/><circle cx="678.30" cy="37.45" r="1.77" fill="#fff" stroke="#333" stroke-width="0.35"/><circle cx="672.11" cy="33.88" r="1.77" fill="#fff" stroke="#333" stroke-width="0.35"/><circle cx="672.11" cy="26.73" r="1.77" fill="#fff" stroke="#333" stroke-width="0.35"/><circle cx="678.30" cy="23.15" r="1.77" fill="#fff" stroke="#333" stroke-width="0.35"/><circle cx="684.49" cy="26.73" r="1.77" fill="#fff" stroke="#333" stroke-width="0.35"/><circle cx="685.80" cy="30.30" r="1.47" fill="#fff" stroke="#333" stroke-width="0.35"/><circle cx="682.05" cy="36.80" r="1.47" fill="#fff" stroke="#333" stroke-width="0.35"/><circle cx="674.55" cy="36.80" r="1.47" fill="#fff" stroke="#333" stroke-width="0.35"/><circle cx="670.80" cy="30.30" r="1.47" fill="#fff" stroke="#333" stroke-width="0.35"/><circle cx="674.55" cy="23.80" r="1.47" fill="#fff" stroke="#333" stroke-width="0.35"/><circle cx="682.05" cy="23.80" r="1.47" fill="#fff" stroke="#333" stroke-width="0.35"/><circle cx="681.90" cy="30.30" r="1.62" fill="#fff" stroke="#333" stroke-width="0.35"/><circle cx="680.10" cy="33.42" r="1.62" fill="#fff" stroke="#333" stroke-width="0.35"/><circle cx="676.50" cy="33.42" r="1.62" fill="#fff" stroke="#333" stroke-width="0.35"/><circle cx="674.70" cy="30.30" r="1.62" fill="#fff" stroke="#333" stroke-width="0.35"/><circle cx="676.50" cy="27.18" r="1.62" fill="#fff" stroke="#333" stroke-width="0.35"/><circle cx="680.10" cy="27.18" r="1.62" fill="#fff" stroke="#333" stroke-width="0.35"/><circle cx="678.30" cy="30.30" r="1.62" fill="#fff" stroke="#333" stroke-width="0.35"/><circle cx="703.76" cy="45.00" r="11.68" fill="#3a3a3a"/><circle cx="715.04" cy="48.02" r="2.67" fill="#fff" stroke="#111" stroke-width="0.7"/><circle cx="712.02" cy="53.26" r="2.67" fill="#fff" stroke="#111" stroke-width="0.7"/><circle cx="706.78" cy="56.28" r="2.67" fill="#fff" stroke="#111" stroke-width="0.7"/><circle cx="700.74" cy="56.28" r="2.67" fill="#fff" stroke="#111" stroke-width="0.7"/><circle cx="695.50" cy="53.26" r="2.67" fill="#fff" stroke="#111" stroke-width="0.7"/><circle cx="692.48" cy="48.02" r="2.67" fill="#fff" stroke="#111" stroke-width="0.7"/><circle cx="692.48" cy="41.98" r="2.67" fill="#fff" stroke="#111" stroke-width="0.7"/><circle cx="695.50" cy="36.74" r="2.67" fill="#fff" stroke="#111" stroke-width="0.7"/><circle cx="700.74" cy="33.72" r="2.67" fill="#fff" stroke="#111" stroke-width="0.7"/><circle cx="706.78" cy="33.72" r="2.67" fill="#fff" stroke="#111" stroke-width="0.7"/><circle cx="712.02" cy="36.74" r="2.67" fill="#fff" stroke="#111" stroke-width="0.7"/><circle cx="715.04" cy="41.98" r="2.67" fill="#fff" stroke="#111" stroke-width="0.7"/><circle cx="709.95" cy="48.58" r="1.77" fill="#fff" stroke="#333" stroke-width="0.35"/><circle cx="703.76" cy="52.15" r="1.77" fill="#fff" stroke="#333" stroke-width="0.35"/><circle cx="697.57" cy="48.58" r="1.77" fill="#fff" stroke="#333" stroke-width="0.35"/><circle cx="697.57" cy="41.43" r="1.77" fill="#fff" stroke="#333" stroke-width="0.35"/><circle cx="703.76" cy="37.85" r="1.77" fill="#fff" stroke="#333" stroke-width="0.35"/><circle cx="709.95" cy="41.43" r="1.77" fill="#fff" stroke="#333" stroke-width="0.35"/><circle cx="711.26" cy="45.00" r="1.47" fill="#fff" stroke="#333" stroke-width="0.35"/><circle cx="707.51" cy="51.50" r="1.47" fill="#fff" stroke="#333" stroke-width="0.35"/><circle cx="700.01" cy="51.50" r="1.47" fill="#fff" stroke="#333" stroke-width="0.35"/><circle cx="696.26" cy="45.00" r="1.47" fill="#fff" stroke="#333" stroke-width="0.35"/><circle cx="700.01" cy="38.50" r="1.47" fill="#fff" stroke="#333" stroke-width="0.35"/><circle cx="707.51" cy="38.50" r="1.47" fill="#fff" stroke="#333" stroke-width="0.35"/><circle cx="707.36" cy="45.00" r="1.62" fill="#fff" stroke="#333" stroke-width="0.35"/><circle cx="705.56" cy="48.12" r="1.62" fill="#fff" stroke="#333" stroke-width="0.35"/><circle cx="701.96" cy="48.12" r="1.62" fill="#fff" stroke="#333" stroke-width="0.35"/><circle cx="700.16" cy="45.00" r="1.62" fill="#fff" stroke="#333" stroke-width="0.35"/><circle cx="701.96" cy="41.88" r="1.62" fill="#fff" stroke="#333" stroke-width="0.35"/><circle cx="705.56" cy="41.88" r="1.62" fill="#fff" stroke="#333" stroke-width="0.35"/><circle cx="703.76" cy="45.00" r="1.62" fill="#fff" stroke="#333" stroke-width="0.35"/><circle cx="703.76" cy="74.40" r="11.68" fill="#3a3a3a"/><circle cx="715.04" cy="77.42" r="2.67" fill="#fff" stroke="#111" stroke-width="0.7"/><circle cx="712.02" cy="82.66" r="2.67" fill="#fff" stroke="#111" stroke-width="0.7"/><circle cx="706.78" cy="85.68" r="2.67" fill="#fff" stroke="#111" stroke-width="0.7"/><circle cx="700.74" cy="85.68" r="2.67" fill="#fff" stroke="#111" stroke-width="0.7"/><circle cx="695.50" cy="82.66" r="2.67" fill="#fff" stroke="#111" stroke-width="0.7"/><circle cx="692.48" cy="77.42" r="2.67" fill="#fff" stroke="#111" stroke-width="0.7"/><circle cx="692.48" cy="71.38" r="2.67" fill="#fff" stroke="#111" stroke-width="0.7"/><circle cx="695.50" cy="66.14" r="2.67" fill="#fff" stroke="#111" stroke-width="0.7"/><circle cx="700.74" cy="63.12" r="2.67" fill="#fff" stroke="#111" stroke-width="0.7"/><circle cx="706.78" cy="63.12" r="2.67" fill="#fff" stroke="#111" stroke-width="0.7"/><circle cx="712.02" cy="66.14" r="2.67" fill="#fff" stroke="#111" stroke-width="0.7"/><circle cx="715.04" cy="71.38" r="2.67" fill="#fff" stroke="#111" stroke-width="0.7"/><circle cx="709.95" cy="77.98" r="1.77" fill="#fff" stroke="#333" stroke-width="0.35"/><circle cx="703.76" cy="81.55" r="1.77" fill="#fff" stroke="#333" stroke-width="0.35"/><circle cx="697.57" cy="77.98" r="1.77" fill="#fff" stroke="#333" stroke-width="0.35"/><circle cx="697.57" cy="70.83" r="1.77" fill="#fff" stroke="#333" stroke-width="0.35"/><circle cx="703.76" cy="67.25" r="1.77" fill="#fff" stroke="#333" stroke-width="0.35"/><circle cx="709.95" cy="70.83" r="1.77" fill="#fff" stroke="#333" stroke-width="0.35"/><circle cx="711.26" cy="74.40" r="1.47" fill="#fff" stroke="#333" stroke-width="0.35"/><circle cx="707.51" cy="80.90" r="1.47" fill="#fff" stroke="#333" stroke-width="0.35"/><circle cx="700.01" cy="80.90" r="1.47" fill="#fff" stroke="#333" stroke-width="0.35"/><circle cx="696.26" cy="74.40" r="1.47" fill="#fff" stroke="#333" stroke-width="0.35"/><circle cx="700.01" cy="67.90" r="1.47" fill="#fff" stroke="#333" stroke-width="0.35"/><circle cx="707.51" cy="67.90" r="1.47" fill="#fff" stroke="#333" stroke-width="0.35"/><circle cx="707.36" cy="74.40" r="1.62" fill="#fff" stroke="#333" stroke-width="0.35"/><circle cx="705.56" cy="77.52" r="1.62" fill="#fff" stroke="#333" stroke-width="0.35"/><circle cx="701.96" cy="77.52" r="1.62" fill="#fff" stroke="#333" stroke-width="0.35"/><circle cx="700.16" cy="74.40" r="1.62" fill="#fff" stroke="#333" stroke-width="0.35"/><circle cx="701.96" cy="71.28" r="1.62" fill="#fff" stroke="#333" stroke-width="0.35"/><circle cx="705.56" cy="71.28" r="1.62" fill="#fff" stroke="#333" stroke-width="0.35"/><circle cx="703.76" cy="74.40" r="1.62" fill="#fff" stroke="#333" stroke-width="0.35"/><circle cx="678.30" cy="89.10" r="11.68" fill="#3a3a3a"/><circle cx="689.58" cy="92.12" r="2.67" fill="#fff" stroke="#111" stroke-width="0.7"/><circle cx="686.56" cy="97.36" r="2.67" fill="#fff" stroke="#111" stroke-width="0.7"/><circle cx="681.32" cy="100.38" r="2.67" fill="#fff" stroke="#111" stroke-width="0.7"/><circle cx="675.28" cy="100.38" r="2.67" fill="#fff" stroke="#111" stroke-width="0.7"/><circle cx="670.04" cy="97.36" r="2.67" fill="#fff" stroke="#111" stroke-width="0.7"/><circle cx="667.02" cy="92.12" r="2.67" fill="#fff" stroke="#111" stroke-width="0.7"/><circle cx="667.02" cy="86.08" r="2.67" fill="#fff" stroke="#111" stroke-width="0.7"/><circle cx="670.04" cy="80.84" r="2.67" fill="#fff" stroke="#111" stroke-width="0.7"/><circle cx="675.28" cy="77.82" r="2.67" fill="#fff" stroke="#111" stroke-width="0.7"/><circle cx="681.32" cy="77.82" r="2.67" fill="#fff" stroke="#111" stroke-width="0.7"/><circle cx="686.56" cy="80.84" r="2.67" fill="#fff" stroke="#111" stroke-width="0.7"/><circle cx="689.58" cy="86.08" r="2.67" fill="#fff" stroke="#111" stroke-width="0.7"/><circle cx="684.49" cy="92.67" r="1.77" fill="#fff" stroke="#333" stroke-width="0.35"/><circle cx="678.30" cy="96.25" r="1.77" fill="#fff" stroke="#333" stroke-width="0.35"/><circle cx="672.11" cy="92.67" r="1.77" fill="#fff" stroke="#333" stroke-width="0.35"/><circle cx="672.11" cy="85.52" r="1.77" fill="#fff" stroke="#333" stroke-width="0.35"/><circle cx="678.30" cy="81.95" r="1.77" fill="#fff" stroke="#333" stroke-width="0.35"/><circle cx="684.49" cy="85.52" r="1.77" fill="#fff" stroke="#333" stroke-width="0.35"/><circle cx="685.80" cy="89.10" r="1.47" fill="#fff" stroke="#333" stroke-width="0.35"/><circle cx="682.05" cy="95.60" r="1.47" fill="#fff" stroke="#333" stroke-width="0.35"/><circle cx="674.55" cy="95.60" r="1.47" fill="#fff" stroke="#333" stroke-width="0.35"/><circle cx="670.80" cy="89.10" r="1.47" fill="#fff" stroke="#333" stroke-width="0.35"/><circle cx="674.55" cy="82.60" r="1.47" fill="#fff" stroke="#333" stroke-width="0.35"/><circle cx="682.05" cy="82.60" r="1.47" fill="#fff" stroke="#333" stroke-width="0.35"/><circle cx="681.90" cy="89.10" r="1.62" fill="#fff" stroke="#333" stroke-width="0.35"/><circle cx="680.10" cy="92.22" r="1.62" fill="#fff" stroke="#333" stroke-width="0.35"/><circle cx="676.50" cy="92.22" r="1.62" fill="#fff" stroke="#333" stroke-width="0.35"/><circle cx="674.70" cy="89.10" r="1.62" fill="#fff" stroke="#333" stroke-width="0.35"/><circle cx="676.50" cy="85.98" r="1.62" fill="#fff" stroke="#333" stroke-width="0.35"/><circle cx="680.10" cy="85.98" r="1.62" fill="#fff" stroke="#333" stroke-width="0.35"/><circle cx="678.30" cy="89.10" r="1.62" fill="#fff" stroke="#333" stroke-width="0.35"/><circle cx="652.84" cy="74.40" r="11.68" fill="#3a3a3a"/><circle cx="664.12" cy="77.42" r="2.67" fill="#fff" stroke="#111" stroke-width="0.7"/><circle cx="661.10" cy="82.66" r="2.67" fill="#fff" stroke="#111" stroke-width="0.7"/><circle cx="655.86" cy="85.68" r="2.67" fill="#fff" stroke="#111" stroke-width="0.7"/><circle cx="649.82" cy="85.68" r="2.67" fill="#fff" stroke="#111" stroke-width="0.7"/><circle cx="644.58" cy="82.66" r="2.67" fill="#fff" stroke="#111" stroke-width="0.7"/><circle cx="641.56" cy="77.42" r="2.67" fill="#fff" stroke="#111" stroke-width="0.7"/><circle cx="641.56" cy="71.38" r="2.67" fill="#fff" stroke="#111" stroke-width="0.7"/><circle cx="644.58" cy="66.14" r="2.67" fill="#fff" stroke="#111" stroke-width="0.7"/><circle cx="649.82" cy="63.12" r="2.67" fill="#fff" stroke="#111" stroke-width="0.7"/><circle cx="655.86" cy="63.12" r="2.67" fill="#fff" stroke="#111" stroke-width="0.7"/><circle cx="661.10" cy="66.14" r="2.67" fill="#fff" stroke="#111" stroke-width="0.7"/><circle cx="664.12" cy="71.38" r="2.67" fill="#fff" stroke="#111" stroke-width="0.7"/><circle cx="659.03" cy="77.98" r="1.77" fill="#fff" stroke="#333" stroke-width="0.35"/><circle cx="652.84" cy="81.55" r="1.77" fill="#fff" stroke="#333" stroke-width="0.35"/><circle cx="646.65" cy="77.98" r="1.77" fill="#fff" stroke="#333" stroke-width="0.35"/><circle cx="646.65" cy="70.83" r="1.77" fill="#fff" stroke="#333" stroke-width="0.35"/><circle cx="652.84" cy="67.25" r="1.77" fill="#fff" stroke="#333" stroke-width="0.35"/><circle cx="659.03" cy="70.83" r="1.77" fill="#fff" stroke="#333" stroke-width="0.35"/><circle cx="660.34" cy="74.40" r="1.47" fill="#fff" stroke="#333" stroke-width="0.35"/><circle cx="656.59" cy="80.90" r="1.47" fill="#fff" stroke="#333" stroke-width="0.35"/><circle cx="649.09" cy="80.90" r="1.47" fill="#fff" stroke="#333" stroke-width="0.35"/><circle cx="645.34" cy="74.40" r="1.47" fill="#fff" stroke="#333" stroke-width="0.35"/><circle cx="649.09" cy="67.90" r="1.47" fill="#fff" stroke="#333" stroke-width="0.35"/><circle cx="656.59" cy="67.90" r="1.47" fill="#fff" stroke="#333" stroke-width="0.35"/><circle cx="656.44" cy="74.40" r="1.62" fill="#fff" stroke="#333" stroke-width="0.35"/><circle cx="654.64" cy="77.52" r="1.62" fill="#fff" stroke="#333" stroke-width="0.35"/><circle cx="651.04" cy="77.52" r="1.62" fill="#fff" stroke="#333" stroke-width="0.35"/><circle cx="649.24" cy="74.40" r="1.62" fill="#fff" stroke="#333" stroke-width="0.35"/><circle cx="651.04" cy="71.28" r="1.62" fill="#fff" stroke="#333" stroke-width="0.35"/><circle cx="654.64" cy="71.28" r="1.62" fill="#fff" stroke="#333" stroke-width="0.35"/><circle cx="652.84" cy="74.40" r="1.62" fill="#fff" stroke="#333" stroke-width="0.35"/><circle cx="652.84" cy="45.00" r="11.68" fill="#3a3a3a"/><circle cx="664.12" cy="48.02" r="2.67" fill="#fff" stroke="#111" stroke-width="0.7"/><circle cx="661.10" cy="53.26" r="2.67" fill="#fff" stroke="#111" stroke-width="0.7"/><circle cx="655.86" cy="56.28" r="2.67" fill="#fff" stroke="#111" stroke-width="0.7"/><circle cx="649.82" cy="56.28" r="2.67" fill="#fff" stroke="#111" stroke-width="0.7"/><circle cx="644.58" cy="53.26" r="2.67" fill="#fff" stroke="#111" stroke-width="0.7"/><circle cx="641.56" cy="48.02" r="2.67" fill="#fff" stroke="#111" stroke-width="0.7"/><circle cx="641.56" cy="41.98" r="2.67" fill="#fff" stroke="#111" stroke-width="0.7"/><circle cx="644.58" cy="36.74" r="2.67" fill="#fff" stroke="#111" stroke-width="0.7"/><circle cx="649.82" cy="33.72" r="2.67" fill="#fff" stroke="#111" stroke-width="0.7"/><circle cx="655.86" cy="33.72" r="2.67" fill="#fff" stroke="#111" stroke-width="0.7"/><circle cx="661.10" cy="36.74" r="2.67" fill="#fff" stroke="#111" stroke-width="0.7"/><circle cx="664.12" cy="41.98" r="2.67" fill="#fff" stroke="#111" stroke-width="0.7"/><circle cx="659.03" cy="48.58" r="1.77" fill="#fff" stroke="#333" stroke-width="0.35"/><circle cx="652.84" cy="52.15" r="1.77" fill="#fff" stroke="#333" stroke-width="0.35"/><circle cx="646.65" cy="48.58" r="1.77" fill="#fff" stroke="#333" stroke-width="0.35"/><circle cx="646.65" cy="41.42" r="1.77" fill="#fff" stroke="#333" stroke-width="0.35"/><circle cx="652.84" cy="37.85" r="1.77" fill="#fff" stroke="#333" stroke-width="0.35"/><circle cx="659.03" cy="41.42" r="1.77" fill="#fff" stroke="#333" stroke-width="0.35"/><circle cx="660.34" cy="45.00" r="1.47" fill="#fff" stroke="#333" stroke-width="0.35"/><circle cx="656.59" cy="51.50" r="1.47" fill="#fff" stroke="#333" stroke-width="0.35"/><circle cx="649.09" cy="51.50" r="1.47" fill="#fff" stroke="#333" stroke-width="0.35"/><circle cx="645.34" cy="45.00" r="1.47" fill="#fff" stroke="#333" stroke-width="0.35"/><circle cx="649.09" cy="38.50" r="1.47" fill="#fff" stroke="#333" stroke-width="0.35"/><circle cx="656.59" cy="38.50" r="1.47" fill="#fff" stroke="#333" stroke-width="0.35"/><circle cx="656.44" cy="45.00" r="1.62" fill="#fff" stroke="#333" stroke-width="0.35"/><circle cx="654.64" cy="48.12" r="1.62" fill="#fff" stroke="#333" stroke-width="0.35"/><circle cx="651.04" cy="48.12" r="1.62" fill="#fff" stroke="#333" stroke-width="0.35"/><circle cx="649.24" cy="45.00" r="1.62" fill="#fff" stroke="#333" stroke-width="0.35"/><circle cx="651.04" cy="41.88" r="1.62" fill="#fff" stroke="#333" stroke-width="0.35"/><circle cx="654.64" cy="41.88" r="1.62" fill="#fff" stroke="#333" stroke-width="0.35"/><circle cx="652.84" cy="45.00" r="1.62" fill="#fff" stroke="#333" stroke-width="0.35"/></svg>
</body></html>
